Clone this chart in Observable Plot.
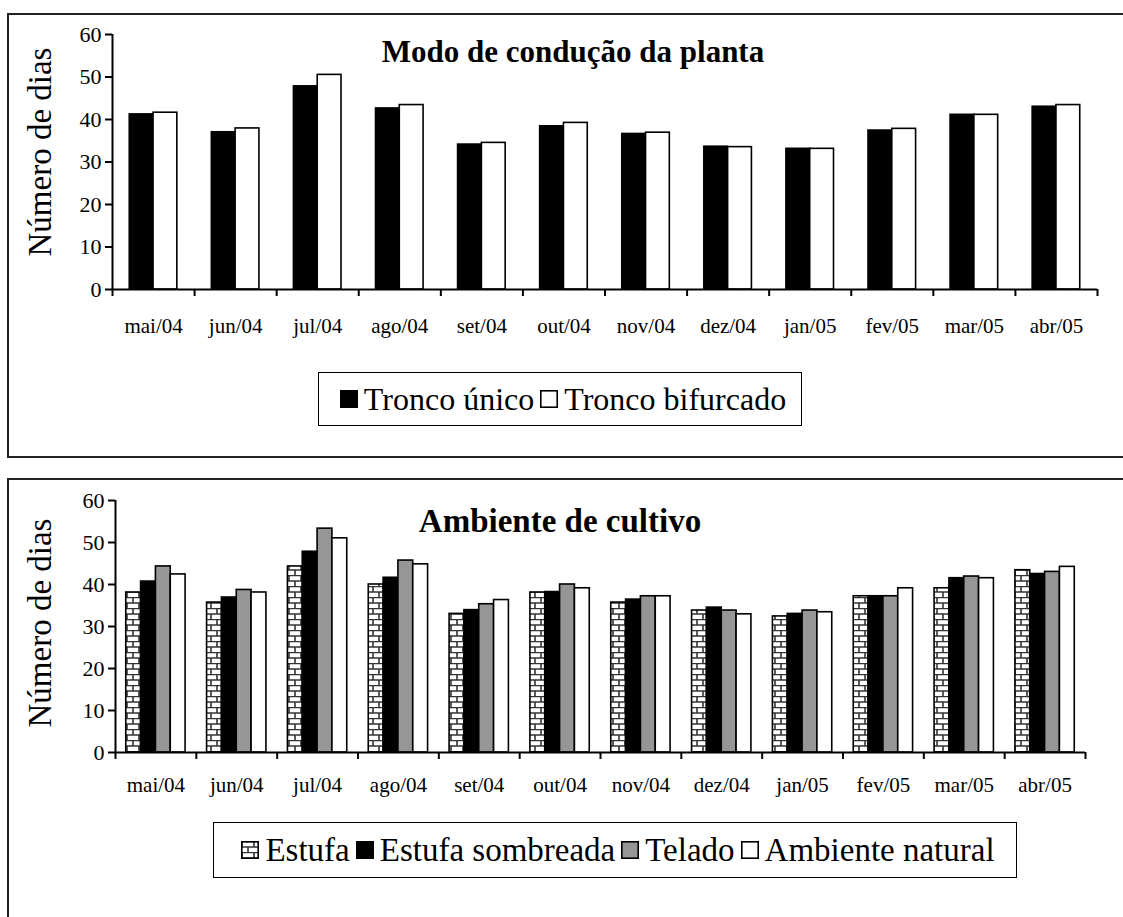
<!DOCTYPE html>
<html><head><meta charset="utf-8">
<script src="https://cdn.jsdelivr.net/npm/d3@7"></script>
<script src="https://cdn.jsdelivr.net/npm/@observablehq/plot@0.6"></script>
<style>
body{margin:0;background:#fff;font-family:'Liberation Serif',serif;color:#000;}
#page{position:relative;width:1123px;height:917px;overflow:hidden;}
.box{position:absolute;border:2px solid #222;border-right:none;width:1200px;}
.plot{position:absolute;left:0;}
.title{position:absolute;font-family:'Liberation Serif',serif;font-weight:bold;line-height:1;white-space:nowrap;transform:translateX(-50%);}
.ylab{position:absolute;font-family:'Liberation Serif',serif;font-size:33px;line-height:1;white-space:nowrap;transform:translate(-50%,-50%) rotate(-90deg);}
.legend{position:absolute;font-family:'Liberation Serif',serif;border:1.5px solid #000;box-sizing:border-box;display:flex;align-items:center;justify-content:center;line-height:1;white-space:nowrap;background:#fff;}
.sw{display:inline-block;width:18px;height:18px;margin:0 6px 0 6px;}
</style></head><body>
<svg width="0" height="0" style="position:absolute">
  <defs>
    <pattern id="brick" patternUnits="userSpaceOnUse" width="12" height="11">
      <rect width="12" height="11" fill="#fff"/>
      <path d="M0 0.5H12M0 6H12" stroke="#333" stroke-width="1.6"/>
      <path d="M1 0V6M7 6V11" stroke="#333" stroke-width="1.6"/>
    </pattern>
  </defs>
</svg>
<div id="page">
  <div class="box" style="left:7px;top:13px;height:441px;"></div>
  <div class="box" style="left:7px;top:478px;height:500px;"></div>
  <div id="top" class="plot" style="top:0px"></div>
  <div id="bottom" class="plot" style="top:465px"></div>
  <div class="title" style="left:573px;top:36px;font-size:31px">Modo de condução da planta</div>
  <div class="title" style="left:560px;top:505px;font-size:33px">Ambiente de cultivo</div>
  <div class="ylab" style="left:40px;top:152px">Número de dias</div>
  <div class="ylab" style="left:40px;top:623px">Número de dias</div>
  <div id="leg1" class="legend" style="left:318px;top:372px;width:484px;height:54px;font-size:32px"></div>
  <div id="leg2" class="legend" style="left:213px;top:822px;width:804px;height:56px;font-size:33px"></div>
</div>
<script>
const months = ["mai/04","jun/04","jul/04","ago/04","set/04","out/04","nov/04","dez/04","jan/05","fev/05","mar/05","abr/05"];
const yTicks = [0,10,20,30,40,50,60];

// Modo de condução da planta
const troncoUnico     = [41.2,37.0,47.8,42.6,34.1,38.4,36.6,33.6,33.1,37.4,41.1,43.0];
const troncoBifurcado = [41.6,37.9,50.5,43.4,34.5,39.2,36.9,33.5,33.1,37.8,41.1,43.4];
const topNames = ["Tronco único","Tronco bifurcado"];

// Ambiente de cultivo
const estufa          = [38.1,35.7,44.3,40.0,33.0,38.1,35.7,33.8,32.4,37.2,39.1,43.4];
const estufaSombreada = [40.7,36.9,47.8,41.6,33.9,38.2,36.4,34.5,33.0,37.2,41.5,42.5];
const telado          = [44.3,38.7,53.3,45.7,35.3,40.0,37.2,33.8,33.8,37.2,41.9,43.0];
const ambienteNatural = [42.4,38.1,51.0,44.8,36.3,39.1,37.2,32.9,33.4,39.1,41.5,44.2];
const bottomNames = ["Estufa","Estufa sombreada","Telado","Ambiente natural"];

function chart({series, fills, height, marginLeft, marginRight, marginTop, marginBottom, gap, labelPad}) {
  const n = series.length;
  const G = n / (n + gap), off = (1 - G) / 2, w = G / n;
  const marks = [];
  series.forEach((vals, k) => {
    const rows = months.map((m, i) => ({i, m, value: vals[i]}));
    marks.push(Plot.rectY(rows, {
      x1: d => d.i + off + k * w,
      x2: d => d.i + off + (k + 1) * w,
      y1: 0, y2: "value",
      fill: fills[k], stroke: "#000", strokeWidth: 1.6
    }));
  });
  marks.push(
    Plot.ruleY([0], {stroke: "#000", strokeWidth: 2}),
    Plot.ruleX([0], {stroke: "#000", strokeWidth: 2}),
    Plot.axisY({ticks: yTicks, tickSize: 7, tickPadding: 4, tickFormat: d => String(d), strokeWidth: 2, fontSize: 22}),
    Plot.axisX({ticks: d3.range(13), tickSize: 7, tickFormat: () => "", strokeWidth: 2}),
    Plot.axisX({ticks: d3.range(12).map(i => i + 0.5), tickSize: 0, tickPadding: labelPad, tickFormat: d => months[Math.floor(d)], fontSize: 21})
  );
  return Plot.plot({
    width: 1123, height, marginLeft, marginRight, marginTop, marginBottom,
    style: {fontFamily: "'Liberation Serif', serif", color: "#000", background: "transparent", overflow: "visible"},
    x: {type: "linear", domain: [0, 12], label: null},
    y: {domain: [0, 60], label: null},
    marks
  });
}

document.getElementById("top").append(chart({
  series: [troncoUnico, troncoBifurcado], fills: ["#000", "#fff"],
  height: 345, marginLeft: 112, marginRight: 26, marginTop: 34, marginBottom: 56, gap: 1.45, labelPad: 29
}));
document.getElementById("bottom").append(chart({
  series: [estufa, estufaSombreada, telado, ambienteNatural], fills: ["url(#brick)", "#000", "#969696", "#fff"],
  height: 345, marginLeft: 115, marginRight: 38, marginTop: 35, marginBottom: 58, gap: 1.45, labelPad: 25
}));

function legend(id, names, fills) {
  const el = document.getElementById(id);
  names.forEach((name, k) => {
    const sw = document.createElementNS("http://www.w3.org/2000/svg", "svg");
    sw.setAttribute("class", "sw"); sw.setAttribute("width", 18); sw.setAttribute("height", 18);
    sw.innerHTML = `<rect x="0.8" y="0.8" width="16.4" height="16.4" fill="${fills[k]}" stroke="#000" stroke-width="1.6"/>`;
    el.append(sw);
    const t = document.createElement("span"); t.textContent = name;
    el.append(t);
  });
}
legend("leg1", topNames, ["#000", "#fff"]);
legend("leg2", bottomNames, ["url(#brick)", "#000", "#969696", "#fff"]);
</script>
</body></html>
